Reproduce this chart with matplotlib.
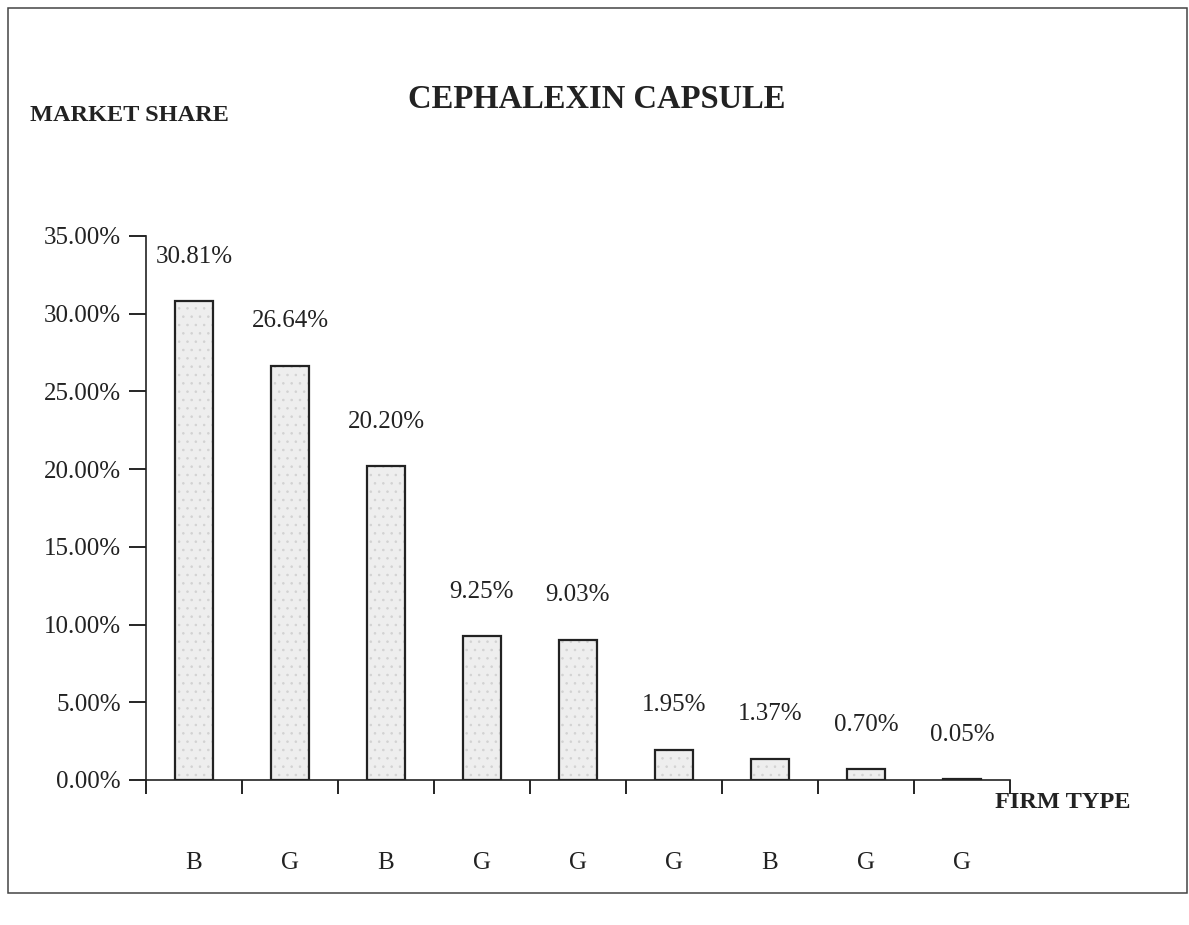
import numpy as np
import matplotlib
matplotlib.use("Agg")
import matplotlib.pyplot as plt
from matplotlib.patches import Rectangle

# market share of cephalexin capsule by firm
firm_type = ["B", "G", "B", "G", "G", "G", "B", "G", "G"]
share = [30.81, 26.64, 20.20, 9.25, 9.03, 1.95, 1.37, 0.70, 0.05]
share_labels = ["30.81%", "26.64%", "20.20%", "9.25%", "9.03%",
                "1.95%", "1.37%", "0.70%", "0.05%"]
yticks = [0, 5, 10, 15, 20, 25, 30, 35]

plt.rcParams['font.family'] = ['Liberation Serif', 'DejaVu Serif']
plt.rcParams['hatch.linewidth'] = 0.6

W, H = 1189, 925
fig = plt.figure(figsize=(W / 100, H / 100), dpi=100)

# frame round the whole picture
fig.patches.append(Rectangle((8 / W, 1 - 893 / H), 1179 / W, 885 / H,
                             transform=fig.transFigure, fill=False,
                             edgecolor='#444444', linewidth=1.1))

ax = fig.add_axes([146 / W, 1 - 780 / H, 864 / W, 544 / H])
x = np.arange(len(share))
# light stipple first, then the dark outline on top
ax.bar(x, share, width=0.4, color='#eeeeee', edgecolor='#d2d2d2',
       linewidth=0, hatch='..', zorder=2)
ax.bar(x, share, width=0.4, fill=False, edgecolor='#222222',
       linewidth=1.6, zorder=3)

for xi, v, lab in zip(x, share, share_labels):
    ax.annotate(lab, (xi, v), xytext=(0, 32), textcoords='offset points',
                ha='center', va='center', fontsize=18, color='#222222')

ax.set_xlim(-0.5, len(share) - 0.5)
ax.set_ylim(0, 35)
ax.set_yticks(yticks)
ax.set_yticklabels(["%.2f%%" % t for t in yticks], fontsize=18, color='#222222')
ax.tick_params(axis='y', direction='out', length=12, width=1.2, pad=6)

# boundaries between firms carry the tick marks, the names sit under the bars
ax.set_xticks(np.arange(-0.5, len(share), 1.0))
ax.set_xticklabels([])
ax.tick_params(axis='x', which='major', direction='out', length=10, width=1.2)
ax.set_xticks(x, minor=True)
ax.set_xticklabels(firm_type, minor=True, fontsize=18, color='#222222')
ax.tick_params(axis='x', which='minor', length=0, pad=52)

for s in ['top', 'right']:
    ax.spines[s].set_visible(False)
for s in ['left', 'bottom']:
    ax.spines[s].set_linewidth(1.2)
    ax.spines[s].set_color('#222222')

fig.text(597 / W, 1 - 100 / H, "CEPHALEXIN CAPSULE", ha='center', va='center',
         fontsize=23.5, fontweight='bold', color='#222222')
fig.text(30 / W, 1 - 115 / H, "MARKET SHARE", ha='left', va='center',
         fontsize=17.5, fontweight='bold', color='#222222')
fig.text(995 / W, 1 - 802 / H, "FIRM TYPE", ha='left', va='center',
         fontsize=17.5, fontweight='bold', color='#222222')

fig.savefig("out.png", dpi=100, facecolor='white')
